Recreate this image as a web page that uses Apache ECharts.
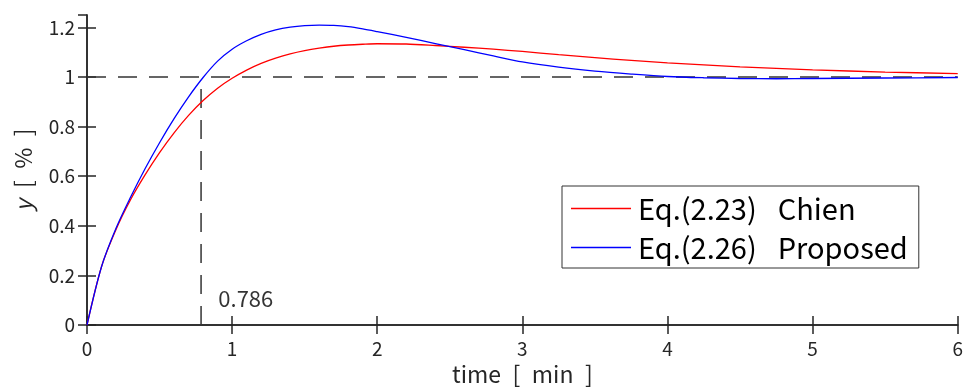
<!DOCTYPE html>
<html><head><meta charset="utf-8">
<script src="https://cdn.jsdelivr.net/npm/echarts@6/dist/echarts.min.js"></script>
<style>html,body{margin:0;padding:0;background:#fff}#c{width:966px;height:391px}</style>
</head><body><div id="c"></div>
<script>
// Data
const timeEarly = [0, 0.1, 0.2, 0.3, 0.4, 0.5, 0.6, 0.7, 0.8, 0.9, 1.0, 1.1, 1.2, 1.3, 1.4, 1.5, 1.6, 1.7, 1.8, 1.9, 2.0];
const timeLate = [2.2, 2.4, 2.6, 2.8, 3.0, 3.25, 3.5, 3.75, 4.0, 4.25, 4.5, 4.75, 5.0, 5.5, 6.0];
const chienEarly = [0, 0.235, 0.385, 0.505, 0.605, 0.695, 0.775, 0.845, 0.905, 0.955, 0.995, 1.028, 1.055, 1.076, 1.093, 1.106, 1.116, 1.124, 1.129, 1.132, 1.134];
const chienLate = [1.133, 1.127, 1.120, 1.112, 1.103, 1.090, 1.078, 1.067, 1.057, 1.049, 1.041, 1.035, 1.029, 1.020, 1.014];
const propEarly = [0, 0.235, 0.39, 0.515, 0.63, 0.735, 0.832, 0.92, 0.998, 1.064, 1.112, 1.146, 1.172, 1.19, 1.201, 1.207, 1.209, 1.208, 1.203, 1.194, 1.183];
const propLate = [1.160, 1.135, 1.110, 1.085, 1.061, 1.040, 1.024, 1.012, 1.002, 0.997, 0.994, 0.993, 0.994, 0.996, 0.998];
const seriesNames = ['Eq.(2.23)\u2002 Chien', 'Eq.(2.26)\u2002 Proposed'];
const refLevel = 1;
const riseTime = 0.786;
const riseLabel = '0.786';
const xTicks = [0, 1, 2, 3, 4, 5, 6];
const yTicks = [0, 0.2, 0.4, 0.6, 0.8, 1, 1.2];

const timeAll = timeEarly.concat(timeLate);
const zip = (a, b) => a.map((v, i) => [v, b[i]]);
const jp = '"Noto Sans CJK JP","Noto Sans",sans-serif';
const axCol = '#262626';
const sp = '\u2002';

const chart = echarts.init(document.getElementById('c'), null, {renderer: 'canvas'});
const baseX = {
  type: 'value', min: xTicks[0], max: xTicks[xTicks.length - 1], interval: 1,
  axisLine: {show: true, lineStyle: {color: axCol, width: 1.5}},
  axisTick: {show: true, inside: true, length: 9, lineStyle: {color: axCol, width: 1.5}},
  splitLine: {show: false}
};
const baseY = {
  type: 'value', min: 0, max: 1.25, interval: 0.2,
  axisLine: {show: true, lineStyle: {color: axCol, width: 1.5}},
  axisTick: {show: true, inside: true, length: 9, lineStyle: {color: axCol, width: 1.5}},
  splitLine: {show: false}
};
chart.setOption({
  animation: false,
  grid: {left: 87, top: 15, right: 4, bottom: 64, containLabel: false},
  xAxis: [
    Object.assign({}, baseX, {
      position: 'bottom',
      name: 'time' + sp + '[' + sp + 'min' + sp + ']', nameLocation: 'middle', nameGap: 38,
      nameTextStyle: {fontFamily: jp, fontSize: 23, color: axCol},
      axisLabel: {margin: 14, fontFamily: jp, fontSize: 19, color: axCol}
    }),
    Object.assign({}, baseX, {position: 'top', axisLabel: {show: false}})
  ],
  yAxis: [
    Object.assign({}, baseY, {
      position: 'left',
      name: '{i|y}' + sp + '[' + sp + '%' + sp + ']', nameLocation: 'middle', nameGap: 52, nameRotate: 90,
      nameTextStyle: {fontFamily: jp, fontSize: 23, color: axCol,
        rich: {i: {fontFamily: jp, fontSize: 23, fontStyle: 'italic', color: axCol}}},
      axisLabel: {margin: 12, fontFamily: jp, fontSize: 19, color: axCol, showMaxLabel: false,
        formatter: v => (yTicks.some(t => Math.abs(t - v) < 1e-9) ? String(+v.toFixed(1)) : '')}
    }),
    Object.assign({}, baseY, {position: 'right', axisLabel: {show: false}})
  ],
  legend: {
    data: seriesNames, orient: 'vertical', left: 562, top: 186,
    padding: [8, 11, 6, 9], itemWidth: 60, itemHeight: 24, itemGap: 10,
    borderColor: '#333', borderWidth: 1, backgroundColor: '#fff',
    icon: 'path://M0,0 L60,0 L60,1.3 L0,1.3 Z',
    textStyle: {fontFamily: jp, fontSize: 29, lineHeight: 24, color: '#000', padding: [0, 0, 0, 2]}
  },
  series: [
    {name: 'ref-h', type: 'line', data: [[xTicks[0], refLevel], [xTicks[xTicks.length - 1], refLevel]],
      symbol: 'none', silent: true, z: 1,
      lineStyle: {color: '#333', width: 1.5, type: [19, 12]}},
    {name: 'ref-v', type: 'line', data: [[riseTime, 0], [riseTime, refLevel]],
      symbol: 'none', silent: true, z: 1,
      lineStyle: {color: '#333', width: 1.5, type: [19, 12]}},
    {name: seriesNames[0], type: 'line', data: zip(timeAll, chienEarly.concat(chienLate)), smooth: 0.3, symbol: 'none',
      itemStyle: {color: '#ff0000'}, lineStyle: {color: '#ff0000', width: 1.3}, z: 3},
    {name: seriesNames[1], type: 'line', data: zip(timeAll, propEarly.concat(propLate)), smooth: 0.3, symbol: 'none',
      itemStyle: {color: '#0000ff'}, lineStyle: {color: '#0000ff', width: 1.3}, z: 4},
    {name: 'label', type: 'scatter', data: [[0.905, 0.107]], symbolSize: 0, silent: true,
      label: {show: true, position: 'right', distance: 0, formatter: riseLabel,
        fontFamily: jp, fontSize: 22, color: '#000'}}
  ]
});
</script></body></html>
